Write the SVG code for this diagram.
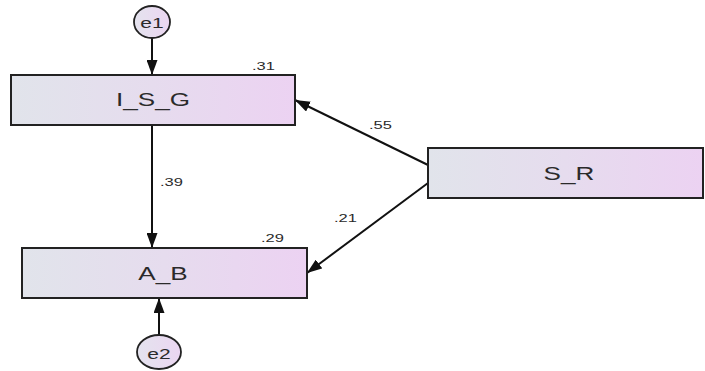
<svg xmlns="http://www.w3.org/2000/svg" width="705" height="371" viewBox="0 0 705 371">
  <defs>
    <linearGradient id="boxFill" x1="0" y1="0" x2="1" y2="0">
      <stop offset="0" stop-color="#e1e4eb"/>
      <stop offset="0.5" stop-color="#e6dcee"/>
      <stop offset="1" stop-color="#ecd2f2"/>
    </linearGradient>
    <linearGradient id="errFill" x1="0" y1="0" x2="1" y2="0">
      <stop offset="0" stop-color="#e4e3ee"/>
      <stop offset="1" stop-color="#ebd6f1"/>
    </linearGradient>
    <marker id="arrow" viewBox="0 0 15 11" refX="15" refY="5.5" markerWidth="15" markerHeight="11" markerUnits="userSpaceOnUse" orient="auto">
      <path d="M0,0 L15,5.5 L0,11 Z" fill="#111"/>
    </marker>
    <style>
      .box { fill: url(#boxFill); stroke: #222; stroke-width: 2; }
      .err { fill: url(#errFill); stroke: #222; stroke-width: 1.8; }
      .edge { stroke: #111; stroke-width: 2; fill: none; marker-end: url(#arrow); }
      .name { font-family: "Liberation Sans", Arial, sans-serif; font-size: 18px; fill: #2a2a2a; text-anchor: middle; }
      .ename { font-family: "Liberation Sans", Arial, sans-serif; font-size: 15px; fill: #2a2a2a; text-anchor: middle; }
      .coef { font-family: "Liberation Sans", Arial, sans-serif; font-size: 11px; fill: #2a2a2a; }
    </style>
  </defs>
  <rect width="705" height="371" fill="#ffffff"/>

  <!-- paths -->
  <g id="connectors">
    <line class="edge" x1="152" y1="38" x2="152" y2="75"/>
    <line class="edge" x1="152" y1="125" x2="152" y2="248"/>
    <line class="edge" x1="428" y1="165" x2="295" y2="100"/>
    <line class="edge" x1="428" y1="183" x2="307" y2="273"/>
    <line class="edge" x1="159" y1="336" x2="159" y2="298"/>
  </g>

  <!-- coefficients (horizontally widened glyphs) -->
  <g id="estimates">
    <text class="coef" transform="translate(252,70) scale(1.5,1)">.31</text>
    <text class="coef" transform="translate(369,129) scale(1.5,1)">.55</text>
    <text class="coef" transform="translate(160,186) scale(1.5,1)">.39</text>
    <text class="coef" transform="translate(334,222) scale(1.5,1)">.21</text>
    <text class="coef" transform="translate(261,242) scale(1.5,1)">.29</text>
  </g>

  <g id="e1">
    <ellipse class="err" cx="152" cy="22" rx="18" ry="16"/>
    <text class="ename" transform="translate(152,28) scale(1.4,1)">e1</text>
  </g>

  <g id="I_S_G">
    <rect class="box" x="11" y="75" width="284" height="50"/>
    <text class="name" transform="translate(153,106) scale(1.45,1)">I_S_G</text>
  </g>

  <g id="S_R">
    <rect class="box" x="428" y="148" width="275" height="50"/>
    <text class="name" transform="translate(569,180) scale(1.45,1)">S_R</text>
  </g>

  <g id="A_B">
    <rect class="box" x="22" y="248" width="285" height="50"/>
    <text class="name" transform="translate(163,280) scale(1.45,1)">A_B</text>
  </g>

  <g id="e2">
    <ellipse class="err" cx="159" cy="352" rx="22" ry="17"/>
    <text class="ename" transform="translate(159,359) scale(1.4,1)">e2</text>
  </g>
</svg>
